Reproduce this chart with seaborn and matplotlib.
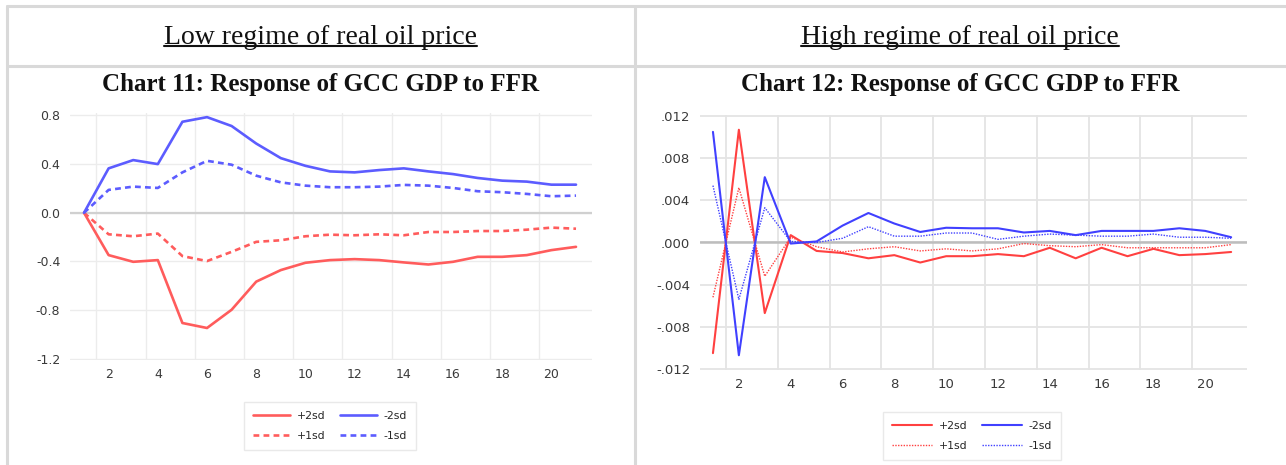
import numpy as np
import pandas as pd
import matplotlib
matplotlib.use("Agg")
import matplotlib.pyplot as plt
from matplotlib.lines import Line2D
from matplotlib.ticker import FixedLocator, FuncFormatter
import seaborn as sns

# ---- data ----
horizon = list(range(1, 22))
band_labels = ["+2sd", "+1sd", "-2sd", "-1sd"]

# Chart 11: low regime of real oil price
low_p2 = [0.0, -0.348, -0.403, -0.389, -0.906, -0.947, -0.797, -0.566, -0.471, -0.411, -0.389,
          -0.381, -0.389, -0.408, -0.425, -0.403, -0.362, -0.362, -0.348, -0.307, -0.280]
low_p1 = [0.0, -0.177, -0.193, -0.171, -0.356, -0.397, -0.321, -0.239, -0.226, -0.193, -0.180,
          -0.185, -0.177, -0.185, -0.158, -0.158, -0.150, -0.150, -0.139, -0.122, -0.131]
low_m2 = [0.0, 0.365, 0.433, 0.400, 0.748, 0.786, 0.713, 0.569, 0.449, 0.386, 0.340,
          0.332, 0.351, 0.365, 0.340, 0.318, 0.286, 0.264, 0.256, 0.231, 0.231]
low_m1 = [0.0, 0.188, 0.215, 0.204, 0.332, 0.427, 0.395, 0.305, 0.250, 0.223, 0.210,
          0.210, 0.215, 0.229, 0.223, 0.204, 0.177, 0.169, 0.155, 0.136, 0.141]

# Chart 12: high regime of real oil price
high_p2 = [-0.0105, 0.0107, -0.0067, 0.0007, -0.0008, -0.0010, -0.0015, -0.0012, -0.0019, -0.0013, -0.0013,
           -0.0011, -0.0013, -0.0005, -0.0015, -0.0005, -0.0013, -0.0006, -0.0012, -0.0011, -0.0009]
high_p1 = [-0.0052, 0.0052, -0.0032, 0.0005, -0.0004, -0.0009, -0.0006, -0.0004, -0.0008, -0.0006, -0.0008,
           -0.0006, -0.0001, -0.0003, -0.0004, -0.0002, -0.0005, -0.0005, -0.0005, -0.0005, -0.0002]
high_m2 = [0.0105, -0.0107, 0.0062, -0.0001, 0.0001, 0.0016, 0.0028, 0.0018, 0.0010, 0.0014, 0.00135,
           0.00135, 0.00095, 0.0011, 0.0007, 0.0011, 0.0011, 0.0011, 0.00135, 0.0011, 0.0005]
high_m1 = [0.0054, -0.0054, 0.0033, 0.0001, 0.0, 0.0004, 0.0015, 0.0006, 0.0006, 0.0009, 0.0009,
           0.0003, 0.0006, 0.0008, 0.0007, 0.0006, 0.0006, 0.0008, 0.0005, 0.0005, 0.0004]

low_ticks = [-1.2, -0.8, -0.4, 0.0, 0.4, 0.8]
high_ticks = [-0.012, -0.008, -0.004, 0.0, 0.004, 0.008, 0.012]
x_ticks = list(range(2, 21, 2))
grid_x = [1.5 + 2 * i for i in range(10)]


def to_long(series):
    frames = []
    for lab, vals in zip(band_labels, series):
        frames.append(pd.DataFrame({"h": horizon, "v": vals, "band": lab}))
    return pd.concat(frames, ignore_index=True)


sns.set_style("white")
plt.rcParams["font.family"] = ["DejaVu Sans"]

fig = plt.figure(figsize=(12.86, 4.65), dpi=100)
W, H = 1286.0, 465.0


def fx(px):
    return px / W


def fy(py):
    return 1 - py / H


# table frame
line_col = "#d9d9d9"
for (x0, y0, x1, y1) in [(7, 6, 1286, 6), (7, 66, 1286, 66), (7, 6, 7, 465), (634.5, 6, 634.5, 465)]:
    fig.add_artist(Line2D([fx(x0), fx(x1)], [fy(y0), fy(y1)], color=line_col, lw=2.2))

serif = ["Liberation Serif", "DejaVu Serif"]
headers = [("Low regime of real oil price", 320.5), ("High regime of real oil price", 960)]
titles = [("Chart 11: Response of GCC GDP to FFR", 320.5), ("Chart 12: Response of GCC GDP to FFR", 960)]
head_texts = []
for txt, cx in headers:
    head_texts.append(fig.text(fx(cx), fy(37.5), txt, ha="center", va="center",
                               family=serif, fontsize=20, color="#111111"))
for txt, cx in titles:
    fig.text(fx(cx), fy(84), txt, ha="center", va="center",
             family=serif, fontsize=18, fontweight="bold", color="#111111")


def style_axes(ax, yticks, fmt, ylim, xlim, gcol, glw, zcol, zlw, tsize):
    ax.set_xlim(*xlim)
    ax.set_ylim(*ylim)
    ax.xaxis.set_major_locator(FixedLocator(x_ticks))
    ax.xaxis.set_minor_locator(FixedLocator(grid_x))
    ax.yaxis.set_major_locator(FixedLocator(yticks))
    ax.yaxis.set_major_formatter(FuncFormatter(fmt))
    ax.grid(False)
    ax.grid(True, which="minor", axis="x", color=gcol, lw=glw)
    ax.grid(True, which="major", axis="y", color=gcol, lw=glw)
    ax.axhline(0, color=zcol, lw=zlw, zorder=1)
    ax.tick_params(axis="both", which="both", length=0, labelsize=tsize, labelcolor="#3a3a3a")
    ax.tick_params(axis="y", pad=7)
    ax.tick_params(axis="x", pad=6)
    for s in ax.spines.values():
        s.set_visible(False)
    ax.set_xlabel("")
    ax.set_ylabel("")
    ax.set_axisbelow(True)


# ---- Chart 11 ----
ax1 = fig.add_axes([fx(70), fy(360), fx(592) - fx(70), fy(113) - fy(360)])
df_low = to_long([low_p2, low_p1, low_m2, low_m1])
red1, blue1 = "#ff5c5c", "#5c5cff"
sns.lineplot(data=df_low, x="h", y="v", hue="band", style="band", ax=ax1,
             palette={"+2sd": red1, "+1sd": red1, "-2sd": blue1, "-1sd": blue1},
             dashes={"+2sd": "", "+1sd": (2.2, 1.6), "-2sd": "", "-1sd": (2.2, 1.6)},
             linewidth=1.9)
style_axes(ax1, low_ticks, lambda v, p: f"{v:.1f}", (-1.21, 0.82), (0.43, 21.65),
           "#ececec", 1.0, "#d0d0d0", 1.6, 9)
sns.move_legend(ax1, loc="center", bbox_to_anchor=(fx(330), fy(426)),
                bbox_transform=fig.transFigure, ncol=2, title=None, frameon=True,
                fontsize=7.8, handlelength=3.4, columnspacing=1.4, handletextpad=0.6,
                borderpad=0.8, labelspacing=0.9, fancybox=False, edgecolor="#e4e4e4")

# ---- Chart 12 ----
ax2 = fig.add_axes([fx(700), fy(370), fx(1246.7) - fx(700), fy(115) - fy(370)])
df_high = to_long([high_p2, high_p1, high_m2, high_m1])
red2, blue2 = "#ff4040", "#4040ff"
sns.lineplot(data=df_high, x="h", y="v", hue="band", style="band", ax=ax2,
             palette={"+2sd": red2, "+1sd": red2, "-2sd": blue2, "-1sd": blue2},
             dashes={"+2sd": "", "+1sd": (1, 1), "-2sd": "", "-1sd": (1, 1)},
             size="band", sizes={"+2sd": 1.5, "+1sd": 1.0, "-2sd": 1.5, "-1sd": 1.0})
style_axes(ax2, high_ticks,
           lambda v, p: ("-" if v < 0 else "") + f"{abs(v):.3f}".lstrip("0"),
           (-0.0121, 0.0121), (0.5, 21.6), "#e4e4e4", 1.3, "#bdbdbd", 1.8, 9.5)
h2, l2 = ax2.get_legend_handles_labels()
keep = [i for i, lab in enumerate(l2) if lab in band_labels][:4]
ax2.legend([h2[i] for i in keep], [l2[i] for i in keep], loc="center",
           bbox_to_anchor=(fx(972), fy(436)), bbox_transform=fig.transFigure, ncol=2,
           frameon=True, fontsize=7.8, handlelength=3.7, columnspacing=1.4,
           handletextpad=0.6, borderpad=0.8, labelspacing=0.9, fancybox=False,
           edgecolor="#e4e4e4")

# underline the header texts
fig.canvas.draw()
r = fig.canvas.get_renderer()
for t in head_texts:
    bb = t.get_window_extent(renderer=r)
    ub = bb.y0 + 4
    fig.add_artist(Line2D([bb.x0 / W, bb.x1 / W], [ub / H, ub / H], color="#111111", lw=1.5))

fig.savefig("out.png", dpi=100)
